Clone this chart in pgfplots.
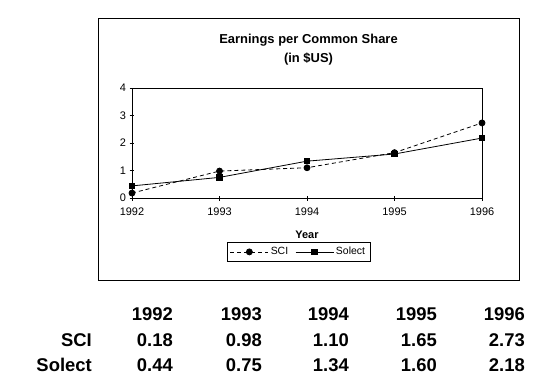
\documentclass[border=0pt]{standalone}
\usepackage{fontspec}
\setmainfont{Liberation Sans}
\usepackage{pgfplots}
\pgfplotsset{compat=1.18}
\begin{document}
\begin{tikzpicture}[x=1bp,y=1bp]
\useasboundingbox (0,0) rectangle (538,379);
\draw[line width=1bp] (98,99) rectangle (519,360);
\node[align=center,font=\fontsize{13}{19}\selectfont\bfseries] at (308.5,329.5) {Earnings per Common Share\\(in \$US)};
\begin{axis}[
  at={(132bp,181bp)}, anchor=south west,
  scale only axis, width=350bp, height=110bp,
  xmin=1992, xmax=1996, ymin=0, ymax=4,
  xtick={1992,1993,1994,1995,1996}, ytick={0,1,2,3,4},
  tick pos=left, tick align=center, major tick length=5bp,
  axis line style={line width=0.8bp},
  every tick/.style={black, line width=0.8bp},
  tick label style={font=\fontsize{11}{12}\selectfont},
  xticklabel style={yshift=-4bp},
  /pgf/number format/assume math mode=true,
  /pgf/number format/1000 sep={},
  xlabel={Year},
  xlabel style={at={(axis description cs:0.5,-0.336)}, anchor=center, font=\fontsize{11}{13}\selectfont\bfseries},
  clip=false,
  legend columns=2,
  legend style={at={(axis description cs:0.4757,-0.49)}, anchor=center, draw=black, line width=0.8bp,
    font=\fontsize{10.5}{12}\selectfont, inner xsep=3bp, inner ysep=2.5bp,
    /tikz/every even column/.append style={column sep=5bp}},
  legend image code/.code={\draw[mark repeat=2,mark phase=2,#1] plot coordinates {(0bp,0bp) (19bp,0bp) (38bp,0bp)};},
]
\addplot[black, line width=0.8bp, dash pattern=on 4bp off 3bp, mark=*, mark size=3bp, mark options={solid}]
  coordinates {(1992,0.18) (1993,0.98) (1994,1.10) (1995,1.65) (1996,2.73)};
\addlegendentry{SCI}
\addplot[black, line width=0.8bp, mark=square*, mark size=2.7bp, mark options={solid}]
  coordinates {(1992,0.44) (1993,0.75) (1994,1.34) (1995,1.60) (1996,2.18)};
\addlegendentry{Solect}
\end{axis}
\begin{scope}[every node/.style={font=\fontsize{18.5}{20}\selectfont\bfseries, anchor=base east, inner sep=0pt}]
\node at (173,59) {1992};
\node at (262,59) {1993};
\node at (349,59) {1994};
\node at (437,59) {1995};
\node at (525,59) {1996};
\node at (92,33) {SCI};
\node at (173,33) {0.18};
\node at (262,33) {0.98};
\node at (349,33) {1.10};
\node at (437,33) {1.65};
\node at (525,33) {2.73};
\node at (92,8) {Solect};
\node at (173,8) {0.44};
\node at (262,8) {0.75};
\node at (349,8) {1.34};
\node at (437,8) {1.60};
\node at (525,8) {2.18};
\end{scope}
\end{tikzpicture}
\end{document}
